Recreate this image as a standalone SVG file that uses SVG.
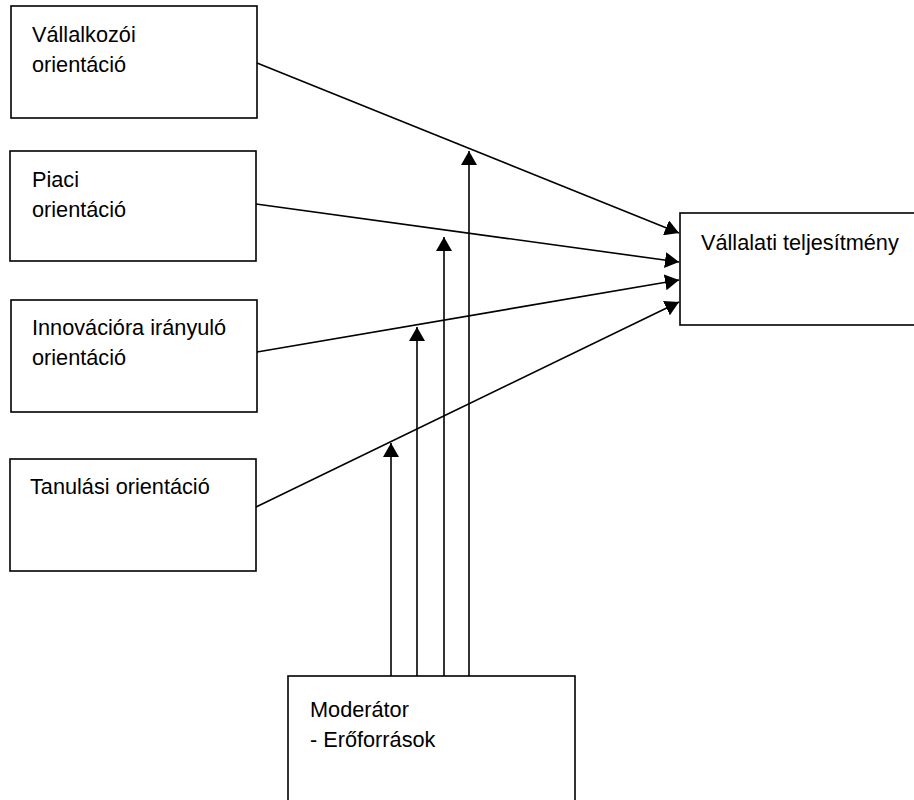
<svg xmlns="http://www.w3.org/2000/svg" width="914" height="800" viewBox="0 0 914 800">
  <style>
    .box { fill: #ffffff; stroke: #000000; stroke-width: 1.6; }
    .lbl { font-family: "Liberation Sans", Arial, sans-serif; font-size: 22.5px; fill: #000000; }
    .conn { stroke: #000000; stroke-width: 1.6; fill: none; }
  </style>
  <defs>
    <marker id="arrow" viewBox="0 0 14 16" refX="14" refY="8" markerWidth="14" markerHeight="16" markerUnits="userSpaceOnUse" orient="auto">
      <path d="M0,0 L14,8 L0,16 Z" fill="#000000"/>
    </marker>
  </defs>

  <!-- labels are slightly condensed horizontally -->
  <g id="vallalkozoi">
    <rect class="box" x="11" y="6" width="246" height="112"/>
    <text class="lbl" transform="translate(32,42) scale(0.965,1)">Vállalkozói</text>
    <text class="lbl" transform="translate(32,72) scale(0.965,1)">orientáció</text>
  </g>

  <g id="piaci">
    <rect class="box" x="10" y="151" width="246" height="110"/>
    <text class="lbl" transform="translate(32,187) scale(0.965,1)">Piaci</text>
    <text class="lbl" transform="translate(32,217) scale(0.965,1)">orientáció</text>
  </g>

  <g id="innovacio">
    <rect class="box" x="11" y="300" width="246" height="112"/>
    <text class="lbl" transform="translate(32,335) scale(0.965,1)">Innovációra irányuló</text>
    <text class="lbl" transform="translate(32,365) scale(0.965,1)">orientáció</text>
  </g>

  <g id="tanulasi">
    <rect class="box" x="10" y="459" width="246" height="112"/>
    <text class="lbl" transform="translate(30,494) scale(0.965,1)">Tanulási orientáció</text>
  </g>

  <g id="teljesitmeny">
    <rect class="box" x="680" y="213" width="250" height="112"/>
    <text class="lbl" transform="translate(701,250) scale(0.965,1)">Vállalati teljesítmény</text>
  </g>

  <g id="moderator">
    <rect class="box" x="288" y="676" width="287" height="140"/>
    <text class="lbl" transform="translate(310,717) scale(0.965,1)">Moderátor</text>
    <text class="lbl" transform="translate(310,747) scale(0.965,1)">- Erőforrások</text>
  </g>

  <g id="connectors">
    <line class="conn" x1="257" y1="63" x2="679" y2="233" marker-end="url(#arrow)"/>
    <line class="conn" x1="256" y1="204" x2="679" y2="262" marker-end="url(#arrow)"/>
    <line class="conn" x1="257" y1="352" x2="679" y2="280" marker-end="url(#arrow)"/>
    <line class="conn" x1="256" y1="507" x2="679" y2="302" marker-end="url(#arrow)"/>
    <line class="conn" x1="391" y1="676" x2="391" y2="443" marker-end="url(#arrow)"/>
    <line class="conn" x1="417" y1="676" x2="417" y2="327" marker-end="url(#arrow)"/>
    <line class="conn" x1="444" y1="676" x2="444" y2="237" marker-end="url(#arrow)"/>
    <line class="conn" x1="469" y1="676" x2="469" y2="151" marker-end="url(#arrow)"/>
  </g>
</svg>
